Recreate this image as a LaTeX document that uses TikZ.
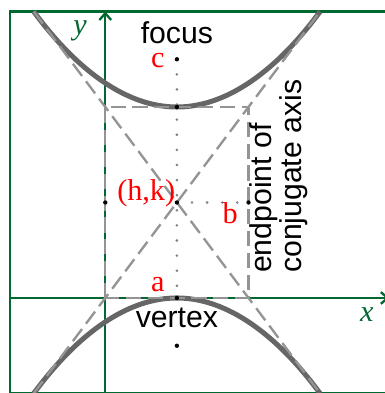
\documentclass[tikz,border=0pt]{standalone}
\usepackage{fontspec}
\setmainfont{Liberation Serif}
\setsansfont{Liberation Sans}
\usetikzlibrary{arrows.meta}
\definecolor{axisgreen}{RGB}{0,105,50}
\tikzset{
  axis/.style={axisgreen, line width=1.4pt},
  axisarrow/.style={axis, -{Straight Barb[length=4pt,width=7pt]}},
  branch/.style={black!60, line width=3pt},
  guide/.style={black!42, line width=1.4pt, dash pattern=on 9pt off 4pt},
  dotline/.style={black!50, line width=1.7pt, line cap=round, dash pattern=on 0pt off 9pt},
  redlbl/.style={red, inner sep=0pt, font=\fontsize{18}{16}\selectfont},
  txtlbl/.style={black, inner sep=0pt, font=\sffamily\fontsize{18}{16}\selectfont},
  axislbl/.style={axisgreen, inner sep=0pt, font=\itshape\fontsize{18}{16}\selectfont}
}
\begin{document}
\begin{tikzpicture}
  \path[use as bounding box, clip] (-2.205,-1.99) rectangle (5.858,6.241);
  % frame and axes
  \draw[axis] (-2,-2) rectangle (6,6);
  \draw[axisarrow] (-2,0) -- (5.95,0);
  \draw[axisarrow] (0,-2) -- (0,6);
  \node[axislbl] (xlab) at (5.48,-0.34) {x};
  \node[axislbl] (ylab) at (-0.53,5.6) {y};
  % the two branches
  \draw[branch] (-1.5,6) parabola bend (1.5,4) (4.5,6);
  \draw[branch] (-1.5,-2) parabola bend (1.5,0) (4.5,-2);
  % box and asymptotes
  \draw[guide] (0,0) rectangle (3,4);
  \draw[guide] (-1.5,-2) -- (4.5,6);
  \draw[guide] (-1.5,6) -- (4.5,-2);
  \draw[dotline] (1.5,5) -- (1.5,0);
  \draw[dotline] (1.5,2) -- (3,2);
  % points
  \coordinate (focA) at (1.5,5);
  \coordinate (vertA) at (1.5,4);
  \coordinate (ctr) at (1.5,2);
  \coordinate (endL) at (0,2);
  \coordinate (endR) at (3,2);
  \coordinate (vertB) at (1.5,0);
  \coordinate (focB) at (1.5,-1);
  \foreach \p in {focA,vertA,ctr,endL,endR,vertB,focB}
    \fill (\p) circle (1.3pt);
  % labels
  \node[txtlbl, anchor=base] (focuslbl) at (1.5,5.33) {focus};
  \node[redlbl, anchor=base east] (clbl) at (1.25,4.82) {c};
  \node[redlbl, anchor=base east] (hklbl) at (1.47,2.05) {(h,k)};
  \node[redlbl, anchor=north east] (blbl) at (2.78,2.0) {b};
  \node[redlbl, anchor=base east] (albl) at (1.25,0.13) {a};
  \node[txtlbl, anchor=base] (vertexlbl) at (1.5,-0.61) {vertex};
  \node[txtlbl, rotate=90, anchor=west, align=left] (conjlbl) at (3.63,0.52) {endpoint of\\conjugate axis};
\end{tikzpicture}
\end{document}
